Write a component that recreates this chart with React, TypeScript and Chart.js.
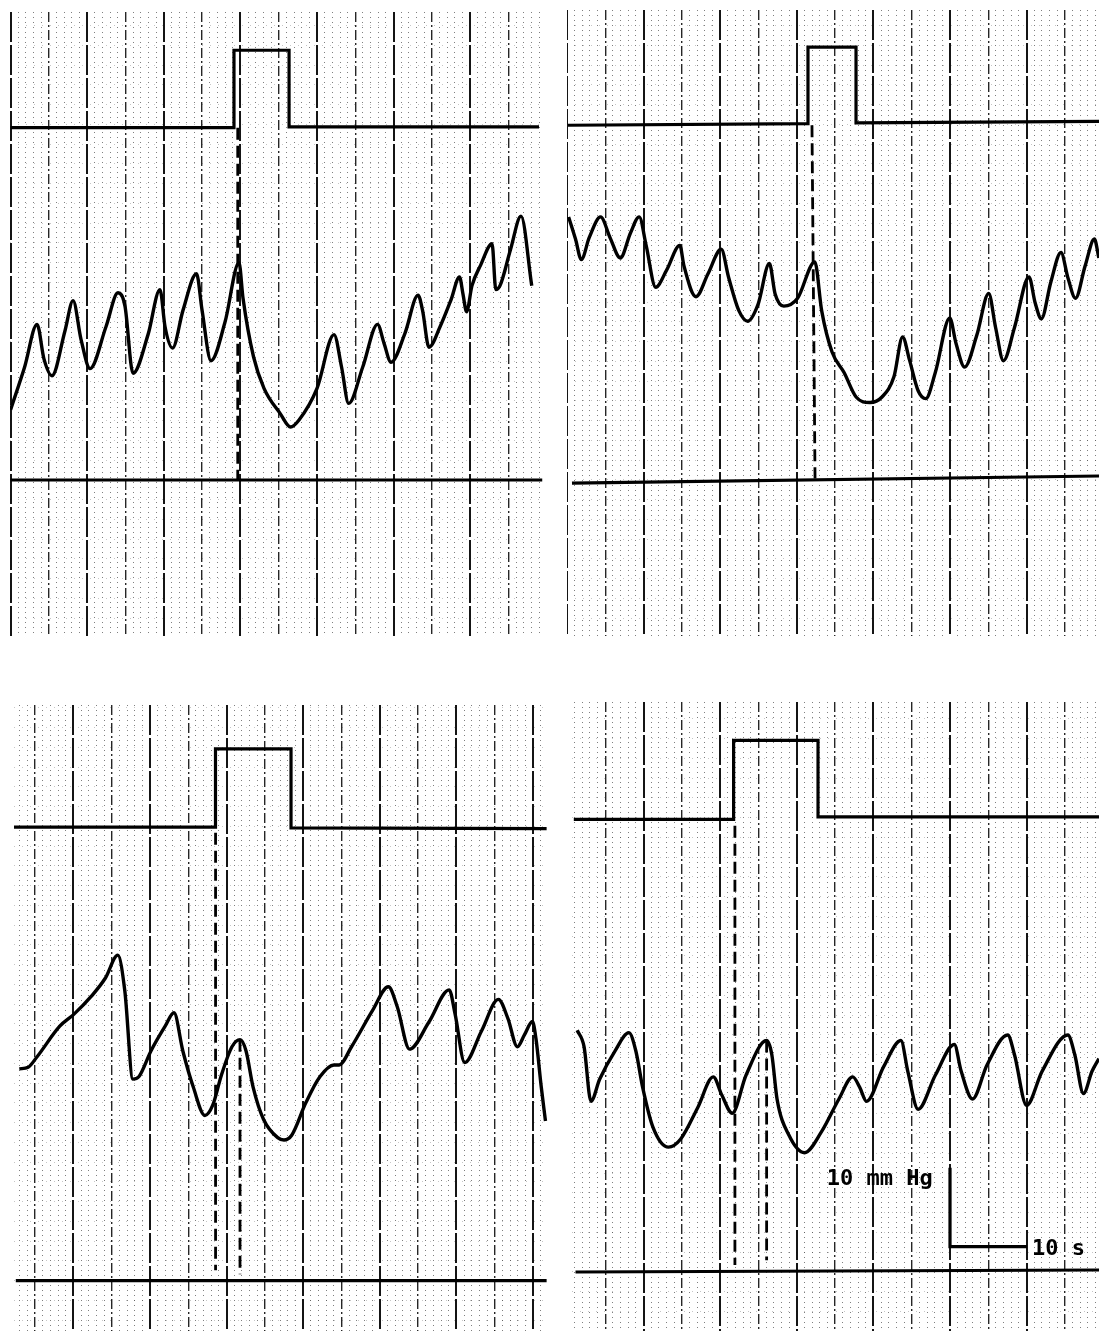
import React, { useEffect, useRef } from "react";
import { Chart, registerables } from "chart.js";

Chart.register(...registerables);

// ---------- Panel 1 (top left) : time in s, pressure in mmHg above the reference line ----------
const p1Time = [0, 1.83, 3.45, 4.36, 5.4, 7.1, 8.15, 9.19, 10.37, 12.45, 14.02, 14.93, 15.98, 17.94, 19.5, 20.16, 21.14, 22.51, 24.27, 24.99, 26.16, 27.99, 29.82, 30.34, 31.71, 33.08, 35.2, 36.54, 37.65, 40.0, 42.22, 43.2, 44.13, 45.97, 47.9, 48.75, 49.66, 51.49, 53.19, 53.77, 54.62, 56.06, 57.49, 58.6, 59.06, 59.52, 60.23, 61.36, 62.85, 63.34, 63.89, 65.27, 66.63, 68.03];
const p1Pressure = [8.9, 14.3, 19.7, 15.3, 13.2, 18.9, 22.7, 17.8, 14.1, 19.4, 23.7, 22.0, 13.5, 18.4, 24.1, 19.4, 16.7, 21.5, 26.1, 21.5, 15.1, 20.0, 27.5, 23.0, 15.6, 11.6, 8.4, 6.7, 7.6, 11.6, 18.4, 14.3, 9.7, 14.3, 19.7, 17.3, 14.9, 18.6, 23.4, 21.5, 16.8, 19.4, 22.8, 25.7, 23.5, 21.3, 24.6, 27.2, 29.9, 24.1, 24.6, 29.2, 33.4, 24.6];
const p1StimTime = [0, 29.16, 29.16, 36.35, 36.35, 68.98];
const p1StimLevel = [44.6, 44.6, 54.4, 54.4, 44.7, 44.7];
const p1RefTime = [0, 69.4];
const p1RefLevel = [0, 0];
const p1MarkTime = [29.65];
const p1MarkTop = [44.6];
const p1MarkBottom = [0];

// ---------- Panel 2 (top right) ----------
const p2Time = [0.21, 1.11, 1.87, 2.91, 4.39, 5.61, 6.96, 8.3, 9.43, 10.33, 11.58, 13.02, 14.73, 15.27, 16.84, 18.41, 20.13, 21.11, 22.45, 23.59, 24.93, 26.42, 27.18, 28.3, 30.1, 32.35, 33.25, 34.6, 36.17, 37.74, 39.54, 41.12, 42.69, 43.81, 44.71, 45.84, 46.83, 48.08, 49.97, 50.78, 51.91, 53.49, 55.05, 55.95, 56.98, 58.42, 60.31, 61.12, 61.93, 63.15, 64.49, 65.39, 66.38, 67.64, 68.85, 69.43];
const p2Pressure = [33.3, 30.5, 27.9, 30.7, 33.3, 30.7, 28.1, 31.3, 33.3, 29.7, 24.4, 26.6, 29.7, 27.1, 23.2, 26.1, 29.2, 25.6, 21.4, 20.1, 22.2, 27.4, 23.5, 22.0, 23.0, 27.6, 21.4, 16.2, 13.6, 10.5, 9.8, 10.5, 13.1, 18.1, 15.2, 11.3, 10.3, 13.6, 20.5, 17.3, 14.3, 18.3, 23.6, 19.3, 15.1, 19.3, 25.7, 22.4, 20.4, 25.0, 28.8, 25.6, 23.0, 27.1, 30.5, 28.1];
const p2StimTime = [0.13, 31.46, 31.46, 37.73, 37.73, 69.45];
const p2StimLevel = [44.9, 45.1, 54.8, 54.8, 45.2, 45.4];
const p2RefTime = [0.65, 69.45];
const p2RefLevel = [-0.4, 0.5];
const p2MarkTime = [31.98];
const p2MarkTop = [44.9];
const p2MarkBottomTime = [32.38];
const p2MarkBottom = [0.2];

// ---------- Panel 3 (bottom left) ----------
const p3Time = [2.94, 4.09, 5.23, 8.22, 10.05, 12.35, 14.18, 15.8, 16.71, 17.77, 18.54, 20.14, 21.98, 23.13, 24.28, 25.65, 27.17, 28.19, 29.32, 30.7, 31.76, 32.53, 33.46, 34.83, 36.67, 37.49, 38.5, 40.34, 42.18, 44.01, 44.7, 46.31, 49.06, 51.12, 52.27, 53.88, 56.4, 59.06, 59.84, 61.08, 63.28, 65.48, 66.72, 67.96, 68.88, 69.93, 70.39, 71.08, 71.63];
const p3Pressure = [26.8, 27.0, 28.3, 32.2, 33.7, 36.0, 38.3, 41.2, 36.7, 25.5, 25.8, 29.1, 32.2, 33.9, 29.1, 24.5, 20.9, 22.2, 26.0, 29.6, 30.5, 29.1, 24.5, 20.4, 18.1, 17.8, 18.4, 22.5, 25.8, 27.3, 27.3, 29.6, 34.2, 37.2, 34.7, 29.3, 32.7, 36.8, 33.7, 27.6, 31.6, 35.6, 33.2, 29.6, 31.1, 32.8, 30.6, 24.5, 20.2];
const p3StimTime = [2.02, 28.55, 28.55, 38.41, 38.41, 71.78];
const p3StimLevel = [57.4, 57.4, 67.3, 67.3, 57.3, 57.2];
const p3RefTime = [2.48, 71.78];
const p3RefLevel = [0, 0];
const p3MarkTime = [28.56, 31.75];
const p3MarkTop = [56.7, 30.5];
const p3MarkBottom = [1.3, 0.8];

// ---------- Panel 4 (bottom right) ----------
const p4Time = [1.33, 2.23, 3.13, 4.26, 6.28, 8.08, 8.98, 9.87, 11.23, 13.25, 14.82, 17.06, 19.09, 20.21, 21.57, 23.37, 26.06, 26.74, 27.42, 28.98, 31.01, 33.25, 35.5, 37.3, 38.2, 39.1, 41.34, 43.59, 44.49, 45.84, 48.08, 50.56, 51.46, 52.94, 54.83, 57.53, 58.42, 60.0, 62.02, 65.39, 66.29, 67.42, 68.54, 69.44];
const p4Pressure = [30.6, 28.5, 21.6, 24.4, 28.0, 30.3, 28.0, 23.4, 18.3, 15.8, 16.8, 20.8, 24.7, 22.4, 20.1, 24.9, 29.3, 27.5, 21.9, 17.3, 15.1, 17.8, 21.9, 24.7, 23.4, 21.6, 26.0, 29.3, 25.4, 20.6, 24.9, 28.8, 25.4, 21.9, 26.2, 30.0, 27.5, 21.1, 25.4, 30.0, 27.5, 22.6, 25.4, 27.0];
const p4StimTime = [0.89, 21.75, 21.75, 32.77, 32.77, 69.45];
const p4StimLevel = [57.3, 57.3, 67.3, 67.3, 57.6, 57.6];
const p4RefTime = [1.11, 69.45];
const p4RefLevel = [0, 0.25];
const p4MarkTime = [21.92, 26.06];
const p4MarkTop = [56.5, 29.3];
const p4MarkBottom = [0.9, 1.5];
// calibration bar: 10 mmHg by 10 s
const p4BarTime = [50.0, 50.0, 60.05];
const p4BarLevel = [13.2, 3.2, 3.2];
const p4LabelText = ["10 mm Hg", "10 s"];
const p4LabelTime = [33.9, 60.7];
const p4LabelLevel = [11.0, 2.1];

type Pt = { x: number; y: number };
const zip = (xs: number[], ys: number[]): Pt[] => xs.map((x, i) => ({ x, y: ys[i] }));

interface PanelCfg {
  left: number; top: number; w: number; h: number;
  xMin: number; xMax: number; yMin: number; yMax: number;
  trace: Pt[]; stim: Pt[]; ref: Pt[]; markers: Pt[][]; bar?: Pt[];
  labels?: { text: string; x: number; y: number }[];
}

const panels: PanelCfg[] = [
  {
    left: 10, top: 12, w: 533, h: 624, xMin: -0.08, xMax: 69.5, yMin: -19.75, yMax: 59.24,
    trace: zip(p1Time, p1Pressure), stim: zip(p1StimTime, p1StimLevel), ref: zip(p1RefTime, p1RefLevel),
    markers: p1MarkTime.map((t, i) => [{ x: t, y: p1MarkTop[i] }, { x: t, y: p1MarkBottom[i] }]),
  },
  {
    left: 567, top: 10, w: 532, h: 626, xMin: 0, xMax: 69.45, yMin: -19.75, yMax: 59.49,
    trace: zip(p2Time, p2Pressure), stim: zip(p2StimTime, p2StimLevel), ref: zip(p2RefTime, p2RefLevel),
    markers: p2MarkTime.map((t, i) => [{ x: t, y: p2MarkTop[i] }, { x: p2MarkBottomTime[i], y: p2MarkBottom[i] }]),
  },
  {
    left: 14, top: 705, w: 534, h: 626, xMin: 2.245, xMax: 71.96, yMin: -6.38, yMax: 72.86,
    trace: zip(p3Time, p3Pressure), stim: zip(p3StimTime, p3StimLevel), ref: zip(p3RefTime, p3RefLevel),
    markers: p3MarkTime.map((t, i) => [{ x: t, y: p3MarkTop[i] }, { x: t, y: p3MarkBottom[i] }]),
  },
  {
    left: 572, top: 702, w: 527, h: 629, xMin: 0.653, xMax: 69.45, yMin: -7.47, yMax: 72.15,
    trace: zip(p4Time, p4Pressure), stim: zip(p4StimTime, p4StimLevel), ref: zip(p4RefTime, p4RefLevel),
    markers: p4MarkTime.map((t, i) => [{ x: t, y: p4MarkTop[i] }, { x: t, y: p4MarkBottom[i] }]),
    bar: zip(p4BarTime, p4BarLevel),
    labels: p4LabelText.map((text, i) => ({ text, x: p4LabelTime[i], y: p4LabelLevel[i] })),
  },
];

const labelPlugin = {
  id: "scaleText",
  afterDatasetsDraw(chart: any, _args: any, opts: any) {
    const labels = (opts && opts.labels) || [];
    if (!labels.length) return;
    const { ctx, scales } = chart;
    ctx.save();
    ctx.fillStyle = "#000";
    ctx.font = "bold 22px 'DejaVu Sans Mono', monospace";
    ctx.textBaseline = "alphabetic";
    ctx.textAlign = "left";
    for (const l of labels) {
      ctx.fillText(l.text, scales.x.getPixelForValue(l.x), scales.y.getPixelForValue(l.y));
    }
    ctx.restore();
  },
};

const isMult = (v: number, m: number) => Math.abs(v / m - Math.round(v / m)) < 1e-6;

function Panel({ cfg }: { cfg: PanelCfg }) {
  const ref = useRef<HTMLCanvasElement | null>(null);
  useEffect(() => {
    if (!ref.current) return;
    const line = { pointRadius: 0, fill: false, borderColor: "#000", borderJoinStyle: "miter", borderCapStyle: "butt" };
    const datasets: any[] = [
      { ...line, label: "pressure", data: cfg.trace, borderWidth: 3.4, cubicInterpolationMode: "monotone", borderJoinStyle: "round" },
      { ...line, label: "stimulus", data: cfg.stim, borderWidth: 3.2, tension: 0 },
      { ...line, label: "reference", data: cfg.ref, borderWidth: 3.2, tension: 0 },
      ...cfg.markers.map((m, i) => ({ ...line, label: "marker " + (i + 1), data: m, borderWidth: 2.8, borderDash: [12, 6], tension: 0 })),
    ];
    if (cfg.bar) datasets.push({ ...line, label: "calibration", data: cfg.bar, borderWidth: 3.2, tension: 0 });
    const xBase = (step: number) => ({
      type: "linear",
      min: cfg.xMin,
      max: cfg.xMax,
      ticks: { display: false, stepSize: step, includeBounds: false },
    });
    const chart = new Chart(ref.current, {
      type: "line",
      data: { datasets },
      options: {
        animation: false,
        responsive: false,
        devicePixelRatio: 1,
        layout: { padding: 0 },
        events: [],
        plugins: {
          legend: { display: false },
          tooltip: { enabled: false },
          scaleText: { labels: cfg.labels || [] },
        } as any,
        scales: {
          x1: {
            ...xBase(1),
            grid: {
              drawTicks: false,
              lineWidth: 1,
              color: (c: any) => (c.tick && isMult(c.tick.value, 5) ? "rgba(0,0,0,0)" : "rgba(0,0,0,0.5)"),
            },
            border: { display: false, dash: [1, 4] },
          },
          x5: {
            ...xBase(5),
            grid: {
              drawTicks: false,
              lineWidth: 1.4,
              color: (c: any) => (c.tick && isMult(c.tick.value, 10) ? "rgba(0,0,0,0)" : "rgba(0,0,0,0.85)"),
            },
            border: { display: false, dash: [10, 3, 2, 3] },
          },
          x: {
            ...xBase(10),
            grid: { drawTicks: false, lineWidth: 2, color: "rgba(0,0,0,0.92)" },
            border: { display: false, dash: [30, 3] },
          },
          y: {
            type: "linear",
            min: cfg.yMin,
            max: cfg.yMax,
            ticks: { display: false, stepSize: 2.5, includeBounds: false },
            grid: { drawTicks: false, lineWidth: 1, color: "rgba(0,0,0,0.22)" },
            border: { display: false, dash: [1, 7] },
          },
        } as any,
      },
      plugins: [labelPlugin],
    } as any);
    return () => chart.destroy();
  }, [cfg]);
  return (
    <canvas
      ref={ref}
      width={cfg.w}
      height={cfg.h}
      style={{ position: "absolute", left: cfg.left, top: cfg.top, width: cfg.w, height: cfg.h }}
    />
  );
}

export default function App() {
  return (
    <div style={{ position: "absolute", left: 0, top: 0, width: 1099, height: 1331, background: "#fff", overflow: "hidden" }}>
      {panels.map((p, i) => (
        <Panel key={i} cfg={p} />
      ))}
    </div>
  );
}
